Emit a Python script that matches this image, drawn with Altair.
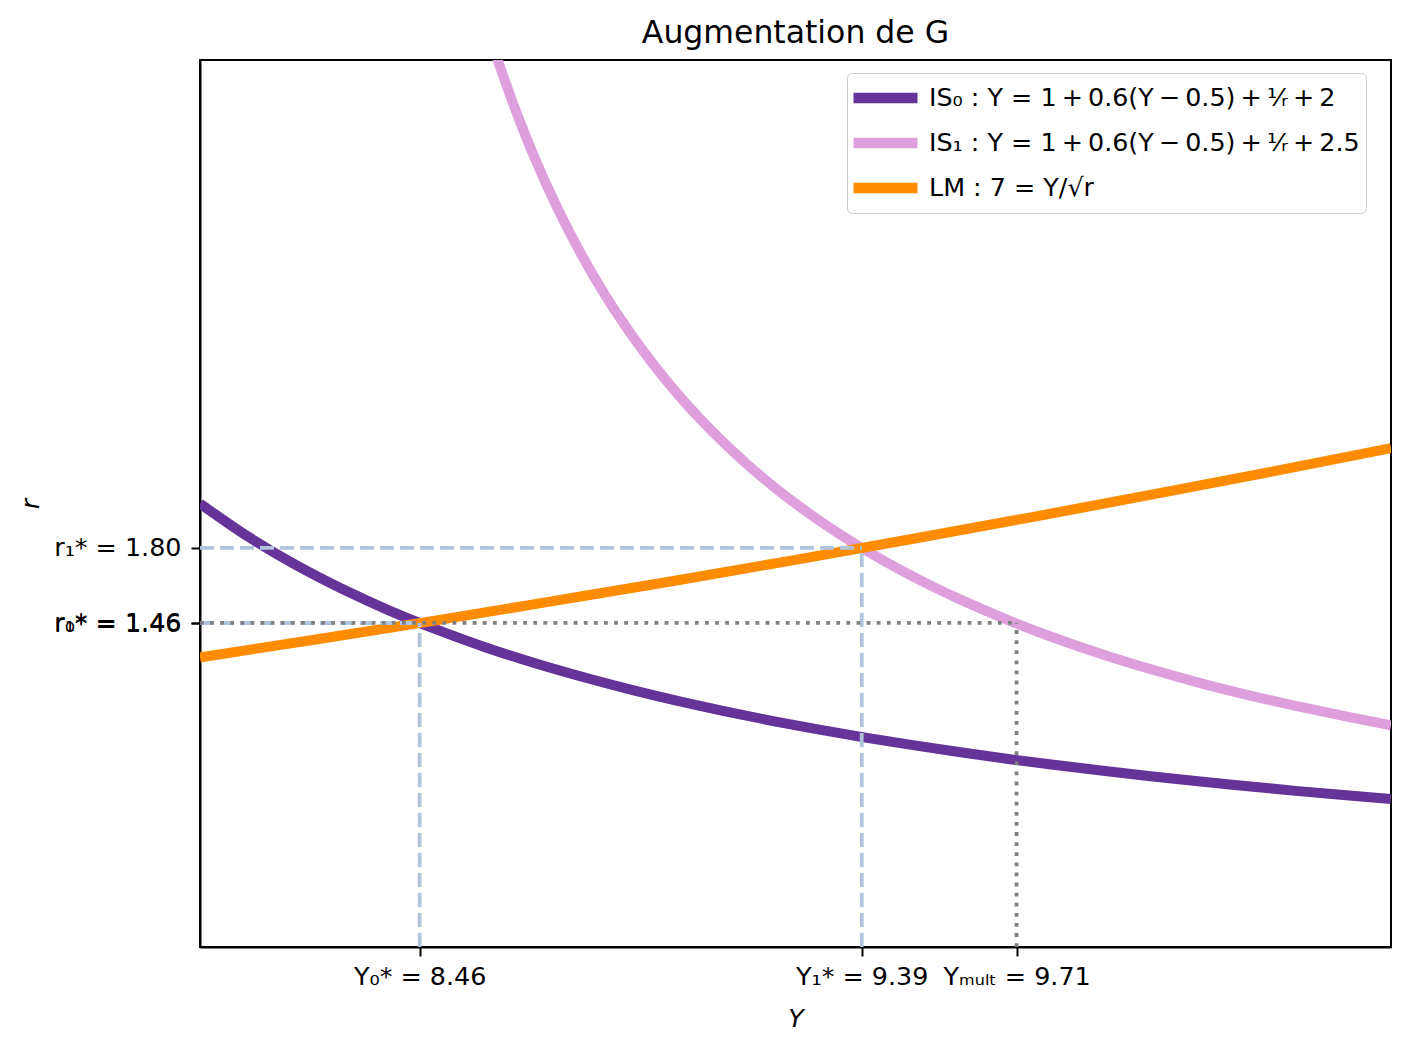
import altair as alt
import pandas as pd

# ---------------- data ----------------
Y_RANGE = [8.0, 10.5]
R_RANGE = [0.0, 4.0]

IS0_Y = [8.0, 8.1, 8.2, 8.3, 8.4, 8.5, 8.6, 8.7, 8.8, 8.9, 9.0, 9.1, 9.2,
         9.3, 9.4, 9.5, 9.6, 9.7, 9.8, 9.9, 10.0, 10.1, 10.2, 10.3, 10.4, 10.5]
IS0_R = [2.000, 1.852, 1.724, 1.613, 1.515, 1.429, 1.351, 1.282, 1.220, 1.163,
         1.111, 1.064, 1.020, 0.980, 0.943, 0.909, 0.877, 0.847, 0.820, 0.794,
         0.769, 0.746, 0.725, 0.704, 0.685, 0.667]

IS1_Y = [8.6, 8.625, 8.65, 8.675, 8.7, 8.75, 8.8, 8.85, 8.9, 8.95, 9.0, 9.05,
         9.1, 9.15, 9.2, 9.3, 9.4, 9.5, 9.6, 9.7, 9.8, 9.9, 10.0, 10.1, 10.2,
         10.3, 10.4, 10.5]
IS1_R = [4.167, 4.000, 3.846, 3.704, 3.571, 3.333, 3.125, 2.941, 2.778, 2.632,
         2.500, 2.381, 2.273, 2.174, 2.083, 1.923, 1.786, 1.667, 1.563, 1.471,
         1.389, 1.316, 1.250, 1.190, 1.136, 1.087, 1.042, 1.000]

LM_Y = [8.0, 8.25, 8.5, 8.75, 9.0, 9.25, 9.5, 9.75, 10.0, 10.25, 10.5]
LM_R = [1.306, 1.389, 1.474, 1.563, 1.653, 1.746, 1.842, 1.940, 2.041, 2.144, 2.250]

T = "\u2009"  # thin space
SERIES = [
    f"IS₀ : Y = 1{T}+{T}0.6(Y{T}−{T}0.5){T}+{T}¹⁄ᵣ{T}+{T}2",
    f"IS₁ : Y = 1{T}+{T}0.6(Y{T}−{T}0.5){T}+{T}¹⁄ᵣ{T}+{T}2.5",
    "LM : 7 = Y/√r",
]
COLORS = ["#663399", "#DDA0DD", "#FF8C00"]

# equilibria
Y0, R0 = 8.461, 1.461
Y1, R1 = 9.389, 1.800
YM, RM = 9.714, 1.462

X_TICKS = [Y0, Y1, YM]
X_LABELS = ["Y₀* = 8.46", "Y₁* = 9.39", "Yₘᵤₗₜ = 9.71"]
R_TICKS = [R0, RM, R1]
R_LABELS = ["r₀* = 1.46", "r₁* = 1.46", "r₁* = 1.80"]

TITLE = "Augmentation de G"
FONT = "DejaVu Sans"

# ---------------- tables ----------------
curves = pd.concat([
    pd.DataFrame({"Y": IS0_Y, "r": IS0_R, "serie": SERIES[0], "k": 0}),
    pd.DataFrame({"Y": IS1_Y, "r": IS1_R, "serie": SERIES[1], "k": 1}),
    pd.DataFrame({"Y": LM_Y, "r": LM_R, "serie": SERIES[2], "k": 2}),
], ignore_index=True)

dashed = pd.DataFrame({
    "x": [Y_RANGE[0], Y0, Y_RANGE[0], Y1],
    "x2": [Y0, Y0, Y1, Y1],
    "y": [R0, R_RANGE[0], R1, R_RANGE[0]],
    "y2": [R0, R0, R1, R1],
})
dotted = pd.DataFrame({
    "x": [Y_RANGE[0], YM],
    "x2": [YM, YM],
    "y": [RM, R_RANGE[0]],
    "y2": [RM, RM],
})

def label_expr(ticks, labels):
    arr_l = "[" + ",".join("'" + s + "'" for s in labels) + "]"
    arr_t = "[" + ",".join(repr(t) for t in ticks) + "]"
    return f"{arr_l}[indexof({arr_t}, datum.value)]"

x_scale = alt.Scale(domain=Y_RANGE, nice=False, zero=False)
y_scale = alt.Scale(domain=R_RANGE, nice=False, zero=False)

x_axis = alt.Axis(values=X_TICKS, labelExpr=label_expr(X_TICKS, X_LABELS),
                  title="Y", labelOverlap=False, labelFlush=False,
                  labelPadding=8, titlePadding=17)
y_axis = alt.Axis(values=R_TICKS, labelExpr=label_expr(R_TICKS, R_LABELS),
                  title="r", labelOverlap=False, labelFlush=False,
                  labelPadding=10, titlePadding=10)

lines = alt.Chart(curves).mark_line(
    strokeWidth=10, clip=True, interpolate="monotone", strokeCap="butt"
).encode(
    x=alt.X("Y:Q", scale=x_scale, axis=x_axis),
    y=alt.Y("r:Q", scale=y_scale, axis=y_axis),
    color=alt.Color("serie:N", scale=alt.Scale(domain=SERIES, range=COLORS),
                    legend=alt.Legend(
                        title=None, orient="none", legendX=647, legendY=13,
                        symbolType="stroke", symbolStrokeWidth=10.5,
                        symbolSize=4096, symbolOffset=-5, clipHeight=38,
                        rowPadding=7, labelFontSize=25.4, labelFont=FONT,
                        labelColor="black", labelOffset=6, padding=6,
                        strokeColor="#cccccc", fillColor="white",
                        cornerRadius=5, labelLimit=800, symbolOpacity=1)),
    detail="k:N",
)

dash_layer = alt.Chart(dashed).mark_rule(
    color="#B0C4DE", strokeWidth=3.8, strokeDash=[14, 6]
).encode(x="x:Q", x2="x2", y="y:Q", y2="y2")

dot_layer = alt.Chart(dotted).mark_rule(
    color="#808080", strokeWidth=3.8, strokeDash=[3.8, 6.3]
).encode(x="x:Q", x2="x2", y="y:Q", y2="y2")

chart = alt.layer(lines, dash_layer, dot_layer).properties(
    width=1191, height=887,
    autosize=alt.AutoSizeParams(type="none"),
    padding={"left": 192, "top": 52, "right": 10, "bottom": 100},
    title=alt.TitleParams(TITLE, font=FONT, fontSize=31.5, fontWeight="normal",
                          anchor="middle", frame="group", offset=10, dy=24,
                          baseline="alphabetic", color="black"),
).configure_view(
    stroke="black", strokeWidth=2
).configure_axis(
    labelFont=FONT, labelFontSize=25.4, labelColor="black",
    titleFont=FONT, titleFontSize=25.4, titleFontWeight="normal",
    titleFontStyle="italic", titleColor="black",
    tickColor="black", tickSize=9, tickWidth=2,
    domainColor="black", domainWidth=2, grid=False,
)

chart.save("out.html", embed_options={"renderer": "svg", "actions": False})
